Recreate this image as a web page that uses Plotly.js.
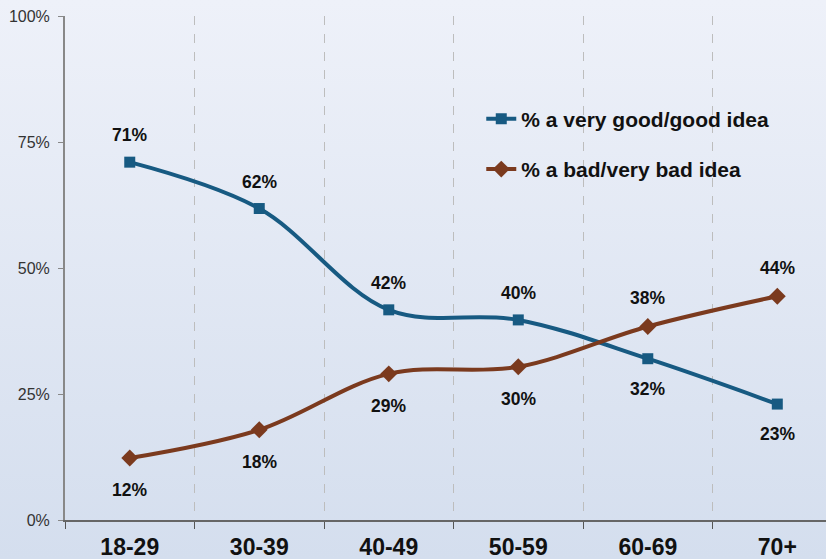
<!DOCTYPE html>
<html><head><meta charset="utf-8">
<script src="https://cdn.plot.ly/plotly-3.0.1.min.js"></script>
<style>
html,body{margin:0;padding:0;}
#chart{width:826px;height:559px;background:linear-gradient(to bottom,#eef1f9 0%,#d4deee 100%);}
</style></head>
<body><div id="chart"></div>
<script>
const categories = ["18-29","30-39","40-49","50-59","60-69","70+"];
const goodValues = [71, 61.8, 41.7, 39.7, 32, 23];
const badValues = [12.3, 17.9, 29, 30.4, 38.4, 44.4];
const goodLabels = ["71%","62%","42%","40%","32%","23%"];
const badLabels = ["12%","18%","29%","30%","38%","44%"];
const goodLabelAbove = [true,true,true,true,false,false];
const badLabelAbove = [false,false,false,false,true,true];
const yTickVals = [0,25,50,75,100];
const yTickText = ["0%","25%","50%","75%","100%"];

const blue = "#175a82", brown = "#7b3a1e";
const FONT = "Liberation Sans, Arial, sans-serif";
const traces = [
  {x: categories, y: goodValues, name: "% a very good/good idea", legendgroup: "g1", type: "scatter", mode: "lines+markers",
   line: {color: blue, width: 4, shape: "spline", smoothing: 1}, marker: {symbol: "square", size: 11, color: blue}},
  {x: categories, y: badValues, name: "% a bad/very bad idea", legendgroup: "g2", type: "scatter", mode: "lines+markers",
   line: {color: brown, width: 4, shape: "spline", smoothing: 1}, marker: {symbol: "diamond", size: 13, color: brown}}
];
const annFont = {family: FONT, size: 17.5, color: "#111", weight: "bold"};
const annotations = [];
categories.forEach((c,i)=>{
  annotations.push({x: c, y: goodValues[i], text: "<b>"+goodLabels[i]+"</b>", showarrow: false, font: annFont, yshift: goodLabelAbove[i] ? 27 : -30});
  annotations.push({x: c, y: badValues[i], text: "<b>"+badLabels[i]+"</b>", showarrow: false, font: annFont, yshift: badLabelAbove[i] ? 28 : -32});
});
const layout = {
  width: 826, height: 559,
  margin: {l: 65, r: 0, t: 16, b: 39},
  paper_bgcolor: "rgba(0,0,0,0)", plot_bgcolor: "rgba(0,0,0,0)",
  showlegend: true,
  legend: {x: 0.547, y: 0.836, xanchor: "left", yanchor: "top", bgcolor: "rgba(0,0,0,0)",
    font: {family: FONT, size: 21, color: "#111", weight: "bold"}, tracegroupgap: 20},
  xaxis: {type: "category", range: [-0.5, 5.376], tickson: "boundaries", ticks: "outside", ticklen: 7, tickcolor: "#555",
    showline: true, linecolor: "#666", linewidth: 2, showgrid: true, gridcolor: "#bdbdbd", griddash: "dash", gridwidth: 1,
    tickfont: {family: FONT, size: 23, color: "#111", weight: "bold"}, zeroline: false, ticklabelstandoff: 5},
  yaxis: {range: [0, 100], tickvals: yTickVals, ticktext: yTickText, ticks: "outside", ticklen: 5, tickcolor: "#888",
    showline: true, linecolor: "#888", linewidth: 2, showgrid: false, zeroline: false, ticklabelstandoff: 5,
    tickfont: {family: FONT, size: 16, color: "#333"}},
  annotations: annotations
};
Plotly.newPlot("chart", traces, layout, {displayModeBar: false, staticPlot: true});
</script></body></html>
